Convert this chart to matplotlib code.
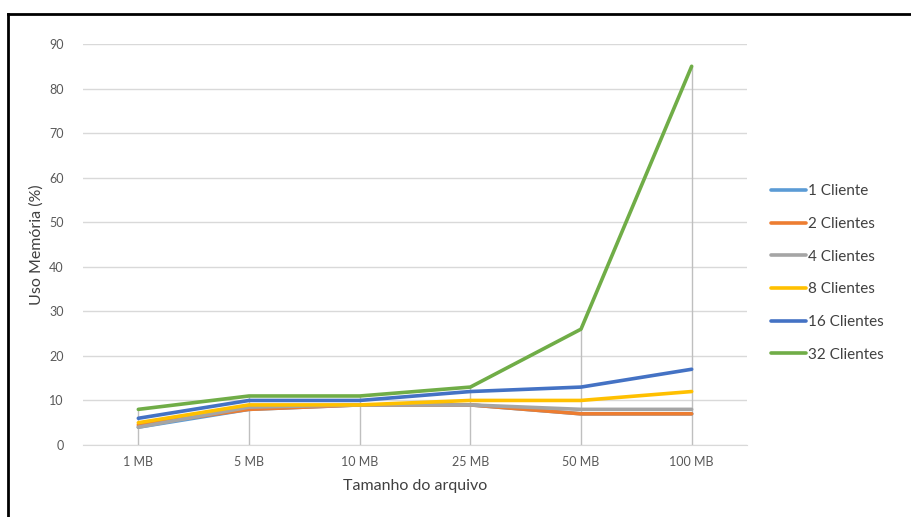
import numpy as np
import matplotlib
matplotlib.use('Agg')
import matplotlib.pyplot as plt
from matplotlib.lines import Line2D

plt.rcParams['font.family'] = ['Lato', 'DejaVu Sans']

# dados
categorias = ['1 MB', '5 MB', '10 MB', '25 MB', '50 MB', '100 MB']
c1 = [4, 8, 9, 9, 7, 7]
c2 = [4.5, 8, 9, 9, 7, 7]
c4 = [4, 8.5, 9, 9, 8, 8]
c8 = [5, 9, 9, 10, 10, 12]
c16 = [6, 10, 10, 12, 13, 17]
c32 = [8, 11, 11, 13, 26, 85]
nomes = ['1 Cliente', '2 Clientes', '4 Clientes', '8 Clientes', '16 Clientes', '32 Clientes']
cores = ['#5B9BD5', '#ED7D31', '#A5A5A5', '#FFC000', '#4472C4', '#70AD47']
series = [c1, c2, c4, c8, c16, c32]

fig = plt.figure(figsize=(9.11, 5.17), dpi=100)
ax = fig.add_axes([83/911, 72/517, 664/911, 401/517])

x = np.arange(len(categorias))

# linhas verticais (drop lines) ate o maior valor
topo = np.max(np.array(series), axis=0)
ax.vlines(x, 0, topo, color='#BFBFBF', lw=1, zorder=1)

for s, nome, cor in zip(series, nomes, cores):
    ax.plot(x, s, color=cor, lw=2.6, label=nome, zorder=3, solid_capstyle='round')

ax.set_xlim(-0.5, len(categorias) - 0.5)
ax.set_ylim(0, 90)
ax.set_yticks(range(0, 91, 10))
ax.set_xticks(x)
ax.set_xticklabels(categorias)
ax.grid(axis='y', color='#D9D9D9', lw=1)
ax.set_axisbelow(True)
for sp in ['top', 'right', 'left']:
    ax.spines[sp].set_visible(False)
ax.spines['bottom'].set_color('#D9D9D9')
ax.tick_params(length=0, labelsize=9, labelcolor='#595959')
ax.tick_params(axis='y', pad=14)
ax.tick_params(axis='x', pad=8)

ax.set_xlabel('Tamanho do arquivo', fontsize=11.5, color='#404040', labelpad=8)
ax.set_ylabel('Uso Memória (%)', fontsize=11.5, color='#404040', labelpad=4)

ax.legend(loc='center left', bbox_to_anchor=(757/911, 1 - 273/517), bbox_transform=fig.transFigure,
          frameon=False, fontsize=11, labelcolor='#404040', handlelength=2.3,
          handletextpad=0.15, labelspacing=1.22)

# moldura
fig.add_artist(Line2D([8/911, 8/911], [0, 1 - 14/517], color='black', lw=2, transform=fig.transFigure))
fig.add_artist(Line2D([8/911, 1], [1 - 14/517, 1 - 14/517], color='black', lw=2, transform=fig.transFigure))

fig.savefig('out.png', dpi=100)
